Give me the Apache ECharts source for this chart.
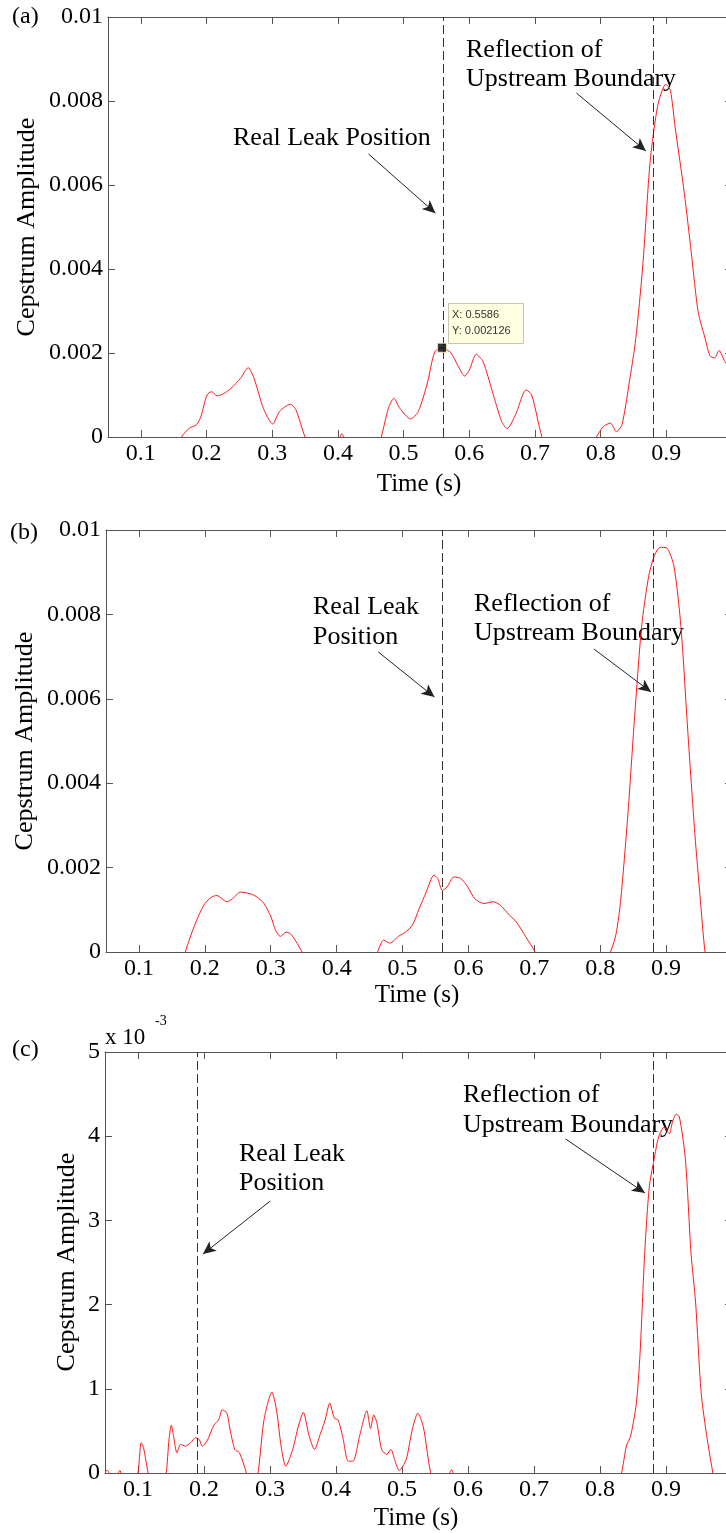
<!DOCTYPE html>
<html><head><meta charset="utf-8">
<script src="https://cdn.jsdelivr.net/npm/echarts@6/dist/echarts.min.js"></script>
<style>html,body{margin:0;padding:0;overflow:hidden;background:#fff}#c{width:740px;height:1533px}</style>
</head><body><div id="c"></div>
<script>
// ---------- tick labels ----------
const xTickValues = [0.1, 0.2, 0.3, 0.4, 0.5, 0.6, 0.7, 0.8, 0.9];
const xTickLabels = ['0.1', '0.2', '0.3', '0.4', '0.5', '0.6', '0.7', '0.8', '0.9'];
const yTickValuesAB = [0, 0.002, 0.004, 0.006, 0.008, 0.01];
const yTickLabelsAB = ['0', '0.002', '0.004', '0.006', '0.008', '0.01'];
const yTickValuesC = [0, 1, 2, 3, 4, 5];
const yTickLabelsC = ['0', '1', '2', '3', '4', '5'];

// ---------- panel (a) ----------
const timeA = [0.05, 0.155, 0.162, 0.174, 0.1845, 0.1915, 0.2007, 0.2077, 0.216, 0.2268, 0.2373, 0.2514, 0.2634, 0.2725, 0.2866, 0.3007, 0.3113, 0.3275, 0.336, 0.35, 0.36, 0.4, 0.406, 0.412, 0.455, 0.466, 0.4768, 0.4852, 0.4944, 0.5106, 0.5225, 0.5366, 0.5472, 0.5577, 0.5718, 0.5824, 0.593, 0.6, 0.6106, 0.6211, 0.6352, 0.6493, 0.6577, 0.6704, 0.6866, 0.6951, 0.7106, 0.72, 0.785, 0.7937, 0.8042, 0.8148, 0.8239, 0.8324, 0.843, 0.8535, 0.8641, 0.8746, 0.8817, 0.8887, 0.8993, 0.9063, 0.9134, 0.9275, 0.938, 0.9486, 0.9592, 0.9662, 0.9732, 0.9803, 0.9894, 1.0];
const ampA = [-0.0005, -0.0003, 0, 0.00021, 0.00029, 0.00049, 0.001, 0.00108, 0.00098, 0.00104, 0.00116, 0.00139, 0.00165, 0.00139, 0.00068, 0.00031, 0.00061, 0.00078, 0.00065, 0, -0.0003, -0.0001, 0.00008, -0.0001, -0.0005, 0, 0.00068, 0.00092, 0.00068, 0.00043, 0.00061, 0.00131, 0.00202, 0.00213, 0.00201, 0.00171, 0.00145, 0.00159, 0.00197, 0.00179, 0.00108, 0.00037, 0.0002, 0.00053, 0.00112, 0.001, 0, -0.0003, -0.0003, 0, 0.00025, 0.00033, 0.00013, 0.00029, 0.00124, 0.00234, 0.00407, 0.00643, 0.00738, 0.00801, 0.0084, 0.00824, 0.00738, 0.0058, 0.00439, 0.00297, 0.00234, 0.00194, 0.00188, 0.00206, 0.00179, 0.0016];
const leakA = 0.5586;
const boundaryA = 0.88;
const datatipA = [0.5586, 0.002126];
const leakArrowA = [[0.4465, 0.00674], [0.5485, 0.00533]];
const boundArrowA = [[0.7631, 0.00819], [0.8689, 0.00681]];

// ---------- panel (b) ----------
const timeB = [0.05, 0.16, 0.1703, 0.1844, 0.1984, 0.209, 0.2181, 0.2336, 0.2441, 0.2533, 0.2687, 0.2793, 0.2898, 0.3004, 0.3074, 0.3144, 0.3236, 0.332, 0.3475, 0.36, 0.45, 0.462, 0.4712, 0.481, 0.4937, 0.5042, 0.5148, 0.5253, 0.5359, 0.5478, 0.5534, 0.5605, 0.5675, 0.5781, 0.5886, 0.5991, 0.6097, 0.6237, 0.6378, 0.6483, 0.6624, 0.6729, 0.687, 0.7011, 0.715, 0.8, 0.8156, 0.8241, 0.8311, 0.8417, 0.8522, 0.8628, 0.8734, 0.8817, 0.8909, 0.9014, 0.912, 0.9225, 0.9331, 0.9436, 0.952, 0.9591, 0.97, 1.0];
const ampB = [-0.001, -0.0006, 0, 0.00063, 0.00111, 0.00129, 0.00134, 0.00119, 0.00129, 0.00142, 0.00138, 0.0013, 0.00115, 0.00083, 0.00051, 0.00037, 0.00047, 0.0004, 0, -0.0004, -0.0004, 0, 0.00028, 0.00021, 0.00037, 0.00047, 0.00063, 0.00103, 0.00142, 0.00182, 0.00174, 0.00146, 0.00154, 0.00178, 0.00174, 0.00154, 0.00126, 0.00115, 0.00119, 0.00111, 0.00087, 0.00071, 0.00036, 0, -0.0005, -0.0005, 0, 0.00043, 0.00123, 0.0032, 0.00557, 0.00771, 0.00889, 0.00937, 0.00959, 0.00957, 0.00913, 0.00771, 0.00518, 0.00281, 0.00123, 0, -0.001, -0.002];
const leakB = 0.5586;
const boundaryB = 0.88;
const leakArrowB = [[0.4632, 0.00711], [0.5485, 0.00604]];
const boundArrowB = [[0.7905, 0.00718], [0.8772, 0.00616]];

// ---------- panel (c) (units of 1e-3) ----------
const timeC = [0.05, 0.0537, 0.06, 0.066, 0.0726, 0.078, 0.095, 0.1, 0.1049, 0.1084, 0.1154, 0.125, 0.135, 0.1428, 0.147, 0.1505, 0.154, 0.159, 0.1646, 0.1716, 0.18, 0.187, 0.1926, 0.1975, 0.2046, 0.2151, 0.2221, 0.2277, 0.2347, 0.2396, 0.2467, 0.2537, 0.2642, 0.272, 0.2818, 0.2909, 0.3028, 0.3098, 0.3168, 0.3239, 0.3344, 0.3428, 0.3505, 0.359, 0.3674, 0.3765, 0.3835, 0.3905, 0.3975, 0.4032, 0.4102, 0.4186, 0.4256, 0.4361, 0.4467, 0.4523, 0.4572, 0.4621, 0.4691, 0.4768, 0.4832, 0.4888, 0.4958, 0.5063, 0.5154, 0.5239, 0.5323, 0.5435, 0.555, 0.57, 0.575, 0.58, 0.6, 0.82, 0.8326, 0.84, 0.8467, 0.8551, 0.8607, 0.8677, 0.8747, 0.8818, 0.8888, 0.8972, 0.9049, 0.9098, 0.9154, 0.9203, 0.9295, 0.9379, 0.9449, 0.9533, 0.9625, 0.9709, 0.98, 1.0];
const ampC = [0.02, 0.03, -0.05, -0.05, 0.03, -0.1, -0.1, 0, 0.36, 0.3, 0, -0.3, -0.3, 0, 0.4, 0.57, 0.43, 0.24, 0.34, 0.32, 0.36, 0.42, 0.40, 0.32, 0.38, 0.57, 0.63, 0.75, 0.71, 0.51, 0.28, 0.24, 0, -0.3, 0, 0.63, 0.96, 0.75, 0.32, 0.08, 0.28, 0.55, 0.72, 0.45, 0.28, 0.47, 0.63, 0.83, 0.65, 0.63, 0.43, 0.14, 0.14, 0.45, 0.74, 0.53, 0.69, 0.59, 0.28, 0.22, 0.28, 0.16, 0.03, 0.16, 0.51, 0.71, 0.55, 0, -0.2, -0.05, 0.04, -0.05, -0.3, -0.3, 0, 0.32, 0.45, 0.83, 1.42, 2.61, 3.4, 3.72, 3.99, 4.11, 4.03, 4.17, 4.26, 4.23, 3.72, 2.61, 2.02, 0.95, 0.4, 0, -0.5, -1];
const leakC = 0.192;
const boundaryC = 0.88;
const leakArrowC = [[0.3004, 3.23], [0.1984, 2.60]];
const boundArrowC = [[0.7479, 3.967], [0.8681, 3.325]];

// ---------- styling ----------
const SERIF = '"Liberation Serif", "Times New Roman", serif';
const AXIS = '#555555';
const RED = '#ff1a1a';
const FS = 24;   // tick labels
const FA = 26;   // annotations / axis names

function lookup(vals, labels) {
  return function (v) {
    for (let i = 0; i < vals.length; i++) if (Math.abs(vals[i] - v) < 1e-9) return labels[i];
    return '';
  };
}
function zip(xs, ys) { return xs.map((x, i) => [x, ys[i]]); }

function axesFor(gi, yVals, yLabels, ymax) {
  const common = {
    type: 'value', gridIndex: gi, splitLine: { show: false },
    axisLine: { show: true, onZero: false, lineStyle: { color: AXIS, width: 1 } }
  };
  const xb = Object.assign({}, common, {
    position: 'bottom', min: 0.05, max: 1.0,
    axisTick: { show: true, inside: true, length: 7, customValues: xTickValues, lineStyle: { color: AXIS } },
    axisLabel: { show: true, customValues: xTickValues, formatter: lookup(xTickValues, xTickLabels), margin: 5, color: '#000', fontFamily: SERIF, fontSize: FS }
  });
  const xt = Object.assign({}, common, {
    position: 'top', min: 0.05, max: 1.0,
    axisTick: { show: true, inside: true, length: 7, customValues: xTickValues, lineStyle: { color: AXIS } },
    axisLabel: { show: false }
  });
  const yl = Object.assign({}, common, {
    position: 'left', min: 0, max: ymax,
    axisTick: { show: true, inside: true, length: 7, customValues: yVals, lineStyle: { color: AXIS } },
    axisLabel: { show: true, customValues: yVals, formatter: lookup(yVals, yLabels), margin: 5, color: '#000', fontFamily: SERIF, fontSize: FS }
  });
  const yr = Object.assign({}, common, {
    position: 'right', min: 0, max: ymax,
    axisTick: { show: true, inside: true, length: 7, customValues: yVals, lineStyle: { color: AXIS } },
    axisLabel: { show: false }
  });
  return { x: [xb, xt], y: [yl, yr] };
}

const axA = axesFor(0, yTickValuesAB, yTickLabelsAB, 0.01);
const axB = axesFor(1, yTickValuesAB, yTickLabelsAB, 0.01);
const axC = axesFor(2, yTickValuesC, yTickLabelsC, 5);

function markLines(leak, bound, arrows) {
  const dashed = { type: [9, 4], color: '#333', width: 1 };
  const data = [
    { xAxis: leak, lineStyle: dashed },
    { xAxis: bound, lineStyle: dashed }
  ];
  arrows.forEach(a => {
    data.push([
      { coord: a[0], symbol: 'none' },
      { coord: a[1], symbol: 'arrow', symbolSize: [9, 13] }
    ]);
  });
  return {
    silent: true, animation: false, label: { show: false },
    lineStyle: { color: '#222', width: 1, type: 'solid' },
    symbol: 'none',
    emphasis: { disabled: true },
    itemStyle: { color: '#000' },
    data: data
  };
}

function curve(xi, yi, xs, ys, ml) {
  return {
    type: 'line', xAxisIndex: xi, yAxisIndex: yi, data: zip(xs, ys),
    showSymbol: false, smooth: 0.25, clip: true,
    lineStyle: { color: RED, width: 1 }, itemStyle: { color: RED },
    markLine: ml, z: 3
  };
}

function txt(x, y, s, opt) {
  return Object.assign({
    type: 'text', x: x, y: y, silent: true,
    style: Object.assign({ text: s, fontFamily: SERIF, fontSize: FA, fill: '#000', align: 'left', verticalAlign: 'middle' }, (opt && opt.style) || {})
  }, (opt && opt.el) || {});
}
function vtxt(x, y, s) {
  return { type: 'text', x: x, y: y, rotation: Math.PI / 2, silent: true,
    style: { text: s, fontFamily: SERIF, fontSize: FA, fill: '#000', align: 'center', verticalAlign: 'middle' } };
}

const option = {
  animation: false,
  backgroundColor: '#fff',
  grid: [
    { left: 108, top: 17, right: 8, height: 420 },
    { left: 106, top: 530, right: 8, height: 422 },
    { left: 105, top: 1052, right: 8, height: 421 }
  ],
  xAxis: [axA.x[0], axA.x[1], axB.x[0], axB.x[1], axC.x[0], axC.x[1]],
  yAxis: [axA.y[0], axA.y[1], axB.y[0], axB.y[1], axC.y[0], axC.y[1]],
  series: [
    curve(0, 0, timeA, ampA, markLines(leakA, boundaryA, [leakArrowA, boundArrowA])),
    {
      type: 'scatter', xAxisIndex: 0, yAxisIndex: 0, data: [datatipA],
      symbol: 'rect', symbolSize: 9, z: 5, silent: true,
      itemStyle: { color: '#000', borderColor: '#f5f0c0', borderWidth: 1 }
    },
    curve(2, 2, timeB, ampB, markLines(leakB, boundaryB, [leakArrowB, boundArrowB])),
    curve(4, 4, timeC, ampC, markLines(leakC, boundaryC, [leakArrowC, boundArrowC]))
  ],
  graphic: [
    // panel labels
    txt(12, 17, '(a)', { style: { fontSize: FS } }),
    txt(10, 533, '(b)', { style: { fontSize: FS } }),
    txt(12, 1050, '(c)', { style: { fontSize: FS } }),
    // y-axis names
    vtxt(27, 227, 'Cepstrum Amplitude'), vtxt(25, 741, 'Cepstrum Amplitude'), vtxt(67, 1262, 'Cepstrum Amplitude'),
    // x-axis names
    txt(419, 484, 'Time (s)', { style: { align: 'center', fontSize: 25 } }),
    txt(417, 995, 'Time (s)', { style: { align: 'center', fontSize: 25 } }),
    txt(416, 1518, 'Time (s)', { style: { align: 'center', fontSize: 25 } }),
    // exponent
    txt(105, 1038, 'x 10', { style: { fontSize: 23 } }),
    txt(155, 1021, '-3', { style: { fontSize: 14 } }),
    // annotations (a)
    txt(233, 138, 'Real Leak Position'),
    txt(466, 50, 'Reflection of'),
    txt(466, 79, 'Upstream Boundary'),
    // annotations (b)
    txt(313, 607, 'Real Leak'),
    txt(313, 637, 'Position'),
    txt(474, 604, 'Reflection of'),
    txt(474, 633, 'Upstream Boundary'),
    // annotations (c)
    txt(239, 1154, 'Real Leak'),
    txt(239, 1183, 'Position'),
    txt(463, 1095, 'Reflection of'),
    txt(463, 1125, 'Upstream Boundary'),
    // datatip box
    { type: 'rect', silent: true, shape: { x: 448.5, y: 303.5, width: 75, height: 40 },
      style: { fill: '#ffffe1', stroke: '#c8c8a8', lineWidth: 1 }, z: 10 },
    { type: 'text', silent: true, x: 452, y: 315, z: 11,
      style: { text: 'X: ' + datatipA[0], fontFamily: '"Liberation Sans", Arial, sans-serif', fontSize: 11, fill: '#333', align: 'left', verticalAlign: 'middle' } },
    { type: 'text', silent: true, x: 452, y: 331, z: 11,
      style: { text: 'Y: ' + datatipA[1], fontFamily: '"Liberation Sans", Arial, sans-serif', fontSize: 11, fill: '#333', align: 'left', verticalAlign: 'middle' } }
  ]
};

const chart = echarts.init(document.getElementById('c'), null, { renderer: 'canvas' });
chart.setOption(option);
</script>
</body></html>
